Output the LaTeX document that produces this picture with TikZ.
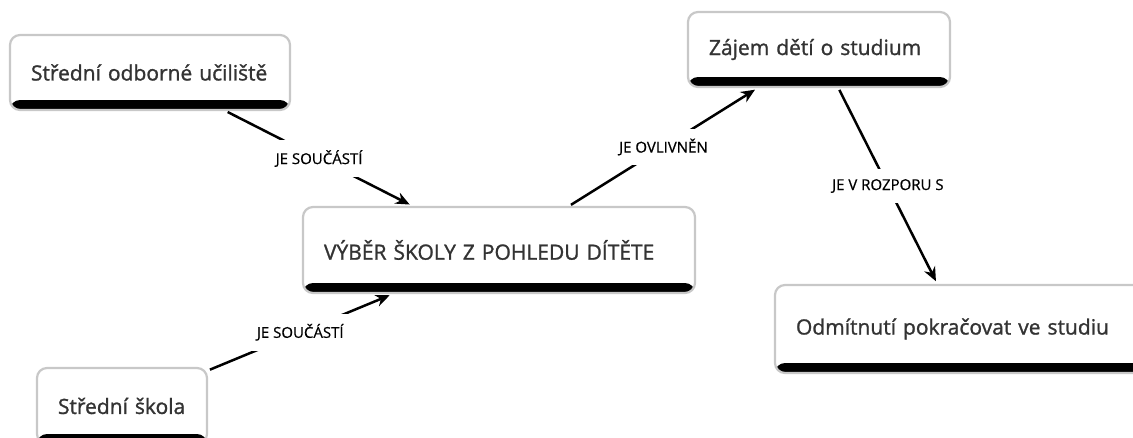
\documentclass[tikz,border=0pt]{standalone}
\usepackage{fontspec}
\setmainfont{Open Sans}
\newfontfamily\boxfont[FakeBold=1.2]{Open Sans}
\newfontfamily\lblfont[FakeBold=0.6]{Open Sans}
\usetikzlibrary{arrows.meta}
\definecolor{boxgray}{HTML}{C8C8C8}
\definecolor{txt}{HTML}{333333}
\tikzset{
  concept/.style={draw=boxgray, line width=2.2pt, fill=white, rounded corners=10pt,
    text=txt, font=\boxfont\fontsize{21}{25}\selectfont, inner xsep=21pt, inner ysep=0pt, align=left,
    path picture={\fill[black] ([yshift=10pt]path picture bounding box.south west) rectangle (path picture bounding box.south east);}},
  link/.style={line width=2.5pt, -{Stealth[length=14pt,width=12pt]}, shorten <=2pt, shorten >=3pt},
  lbl/.style={fill=white, font=\lblfont\fontsize{15}{17}\selectfont, inner sep=10pt, text=black},
}
\begin{document}
\begin{tikzpicture}[x=1pt,y=-1pt]
\useasboundingbox (0,0) rectangle (1133,437);
\node[concept, minimum width=280pt, minimum height=75pt, text width=238pt] (A) at (150,72.5) {Střední odborné učiliště};
\node[concept, minimum width=392pt, minimum height=86pt, text width=350pt] (C) at (499,250) {VÝBĚR ŠKOLY Z POHLEDU DÍTĚTE};
\node[concept, minimum width=262pt, minimum height=75pt, text width=220pt] (Z) at (819,49.5) {Zájem dětí o studium};
\node[concept, minimum width=370pt, minimum height=88pt, text width=328pt] (O) at (960,329) {Odmítnutí pokračovat ve studiu};
\node[concept, minimum width=170pt, minimum height=76pt, text width=128pt] (S) at (122,406) {Střední škola};
\draw[link] (A) -- node[lbl]{JE SOUČÁSTÍ} (C);
\draw[link] (S) -- node[lbl]{JE SOUČÁSTÍ} (C);
\draw[link] (C) -- node[lbl]{JE OVLIVNĚN} (Z);
\draw[link] (Z) -- node[lbl]{JE V ROZPORU S} (O);
\end{tikzpicture}
\end{document}
